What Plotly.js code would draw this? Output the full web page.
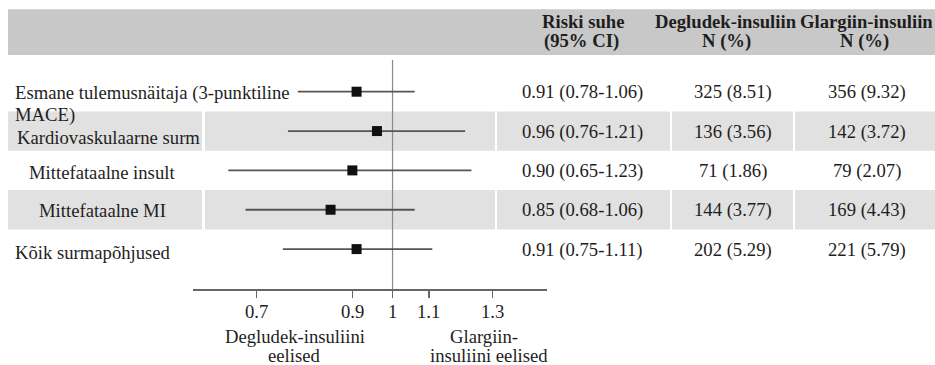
<!DOCTYPE html>
<html>
<head>
<meta charset="utf-8">
<script src="https://cdn.plot.ly/plotly-3.0.1.min.js"></script>
<style>html,body{margin:0;padding:0;background:#fff;}#chart{width:935px;height:365px;}</style>
</head>
<body>
<div id="chart"></div>
<script>
// ---------- data ----------
var outcomes = [
  ["Esmane tulemusnäitaja (3-punktiline", "MACE)"],
  ["Kardiovaskulaarne surm"],
  ["Mittefataalne insult"],
  ["Mittefataalne MI"],
  ["Kõik surmapõhjused"]
];
var hr      = [0.91, 0.96, 0.90, 0.85, 0.91];
var ciLow   = [0.78, 0.76, 0.65, 0.68, 0.75];
var ciHigh  = [1.06, 1.21, 1.23, 1.06, 1.11];
var hrText  = ["0.91 (0.78-1.06)", "0.96 (0.76-1.21)", "0.90 (0.65-1.23)", "0.85 (0.68-1.06)", "0.91 (0.75-1.11)"];
var degText = ["325 (8.51)", "136 (3.56)", "71 (1.86)", "144 (3.77)", "202 (5.29)"];
var glaText = ["356 (9.32)", "142 (3.72)", "79 (2.07)", "169 (4.43)", "221 (5.79)"];
var headers = [["Riski suhe", "(95% CI)"], ["Degludek-insuliin", "N (%)"], ["Glargiin-insuliin", "N (%)"]];
var tickVals = [0.7, 0.9, 1, 1.1, 1.3];
var tickLabels = ["0.7", "0.9", "1", "1.1", "1.3"];
var leftNote = ["Degludek-insuliini", "eelised"];
var rightNote = ["Glargiin-", "insuliini eelised"];

// ---------- layout helpers (pixels) ----------
var W = 935, H = 365;
function px(x) { return x / W; }
function py(y) { return 1 - y / H; }
var rowTop = 52.35, rowStep = 39.35, axisY = 289.3;
var yMax = (axisY - rowTop) / rowStep;
function rowPx(i) { return rowTop + i * rowStep; }

var FONT = "Liberation Serif, Times New Roman, serif";
var FS = 18.67;
var TXT = "#1e1e1e";

var rows = hr.map(function (_, i) { return i + 1; });

// label placement per row: left x and vertical shift
var labelX = [13, 15, 27, 37, 13];
var labelShift = [-0.8, -6, -1.8, -1, -3];

var shapes = [];
// header band
shapes.push({type: "rect", xref: "paper", yref: "paper", x0: px(8), x1: px(935), y0: py(55), y1: py(9.3),
  fillcolor: "#c8c8c8", line: {width: 0}, layer: "below"});
// alternating row bands
var cells = [[8, 202], [205, 495], [497, 670], [672, 793], [795, 935]];
rows.forEach(function (r) {
  if (r % 2 === 0) {
    cells.forEach(function (c) {
      shapes.push({type: "rect", xref: "paper", yref: "paper", x0: px(c[0]), x1: px(c[1]),
        y0: py(rowPx(r + 0.5)), y1: py(rowPx(r - 0.5)),
        fillcolor: "#e1e1e1", line: {width: 0}, layer: "below"});
    });
  }
});
// reference line at HR = 1
shapes.push({type: "line", xref: "x", yref: "paper", x0: 1, x1: 1, y0: py(axisY), y1: py(60),
  line: {color: "#8a8a8a", width: 1.2}, layer: "below"});

var annotations = [];
function addText(text, x, y, yref, opts) {
  opts = opts || {};
  annotations.push({
    text: text, xref: opts.xref || "paper", x: x, yref: yref, y: y,
    xanchor: opts.xanchor || "center", yanchor: "middle",
    yshift: opts.yshift || 0, showarrow: false,
    font: {family: FONT, size: FS, color: TXT}
  });
}
// header
var headerX = [[583, 581], [726.4, 726.7], [866.5, 864.7]];
headers.forEach(function (h, j) {
  addText("<b>" + h[0] + "</b>", px(headerX[j][0]), py(22), "paper");
  addText("<b>" + h[1] + "</b>", px(headerX[j][1]), py(40.5), "paper");
});
// row labels
outcomes.forEach(function (lines, i) {
  addText(lines[0], px(labelX[i]), rows[i], "y", {xanchor: "left", yshift: labelShift[i]});
  if (lines.length > 1) {
    addText(lines[1], px(labelX[i]), rows[i], "y", {xanchor: "left", yshift: labelShift[i] - 22.5});
  }
});
// table columns
rows.forEach(function (r, i) {
  addText(hrText[i], px(582), r, "y", {yshift: -0.5});
  addText(degText[i], px(732.5), r, "y", {yshift: -0.5});
  addText(glaText[i], px(867), r, "y", {yshift: -0.5});
});
// x tick labels (placed on the log axis: annotation x is log10 of the value)
tickVals.forEach(function (v, i) {
  addText(tickLabels[i], Math.log10(v), py(311), "paper", {xref: "x"});
});
// bottom notes
addText(leftNote[0], px(295), py(336.5), "paper");
addText(leftNote[1], px(294), py(355.5), "paper");
addText(rightNote[0], px(484), py(336.5), "paper");
addText(rightNote[1], px(489.3), py(355.5), "paper");

var trace = {
  type: "scatter", mode: "markers",
  x: hr, y: rows,
  marker: {symbol: "square", size: 10, color: "#111111"},
  error_x: {
    type: "data", symmetric: false,
    array: hr.map(function (v, i) { return ciHigh[i] - v; }),
    arrayminus: hr.map(function (v, i) { return v - ciLow[i]; }),
    width: 0, thickness: 1.8, color: "#555555"
  },
  hoverinfo: "skip", showlegend: false, cliponaxis: false
};

var layout = {
  width: W, height: H,
  margin: {l: 0, r: 0, t: 0, b: 0, pad: 0},
  paper_bgcolor: "#ffffff", plot_bgcolor: "rgba(0,0,0,0)",
  showlegend: false,
  xaxis: {
    type: "log",
    domain: [px(193), px(546.7)],
    range: [Math.log10(0.5925), Math.log10(1.4985)],
    tickmode: "array", tickvals: tickVals, ticktext: tickLabels,
    showticklabels: false,
    ticks: "outside", ticklen: 7, tickwidth: 1.5, tickcolor: "#666666",
    showline: true, linecolor: "#666666", linewidth: 1.6,
    showgrid: false, zeroline: false,
    fixedrange: true
  },
  yaxis: {
    domain: [py(axisY), py(rowTop)],
    range: [yMax, 0],
    showticklabels: false, showline: false, showgrid: false, zeroline: false, ticks: "",
    fixedrange: true
  },
  shapes: shapes,
  annotations: annotations
};

Plotly.newPlot("chart", [trace], layout, {displayModeBar: false, staticPlot: true});
</script>
</body>
</html>
